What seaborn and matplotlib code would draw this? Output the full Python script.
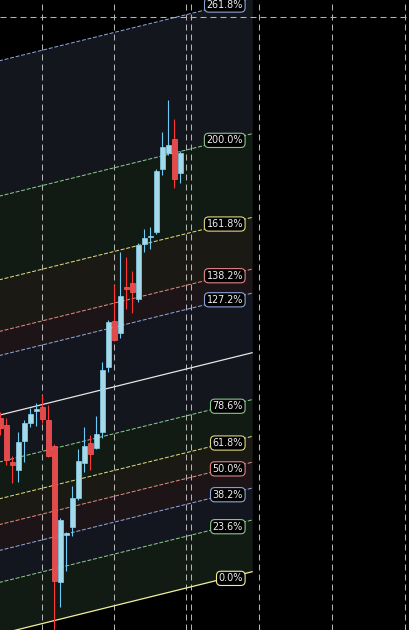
import numpy as np
import pandas as pd
import matplotlib.pyplot as plt
from matplotlib.patches import FancyBboxPatch
import seaborn as sns

# candles (price units are arbitrary, the chart shows no price scale)
opens  = [232, 225, 188, 180, 209, 227, 239.3, 243, 230, 204, 68, 115, 123, 152, 187, 207,
          202, 218, 283, 329, 317, 363, 367, 351, 406, 412.7, 418, 481, 497, 511, 477]
highs  = [238, 232, 194, 218, 230, 242, 247, 255, 245, 206, 132, 118, 164, 201, 223, 215,
          234, 288, 330, 365, 398, 393, 379, 407, 421, 423, 481, 518, 550, 531, 499]
lows   = [215, 185, 167, 168, 188, 223, 224, 227, 193, 5, 43, 79, 114, 150, 178, 180,
          201, 212, 278, 309, 312, 341, 337, 348, 398, 401, 416, 475, 495, 462, 467]
closes = [222, 190, 185, 208, 227, 236, 241, 231, 194, 69, 130, 117, 152, 189, 204, 196,
          216, 280, 328, 310, 354, 361, 358, 405, 412, 414.3, 479, 503, 505, 471, 497]

# fib channel
fib_levels = [0, 0.236, 0.382, 0.5, 0.618, 0.786, 1, 1.272, 1.382, 1.618, 2, 2.618]
fib_labels = ["0.0%", "23.6%", "38.2%", "50.0%", "61.8%", "78.6%", "",
              "127.2%", "138.2%", "161.8%", "200.0%", "261.8%"]
fib_colors = ["#f2ee9a", "#86c886", "#8ba3d8", "#e08484", "#dcd77e", "#86c886", "#e6e6e6",
              "#8ba3d8", "#e08484", "#dcd77e", "#86c886", "#8ba3d8"]
zone_colors = [None, "#111a13", "#13161f", "#1c1417", "#1a1913", "#111a13", "#13161d",
               "#13161f", "#1c1417", "#1a1913", "#111a13", "#13161d"]
chan_x = [-1, 42]
chan_base = [14.6, 78.3]
chan_height = 219

grid_x = [7, 19, 31, 43.2, 55.3, 67.5]
cross_x, cross_y = 31.73, 633.3

df = pd.DataFrame({"open": opens, "high": highs, "low": lows, "close": closes})
df["idx"] = np.arange(len(df))
df["up"] = df["close"] >= df["open"]

sns.set_theme(style="dark", rc={"axes.facecolor": "black", "figure.facecolor": "black",
                                "lines.scale_dashes": False})
plt.rcParams["font.family"] = ["DejaVu Sans"]

fig = plt.figure(figsize=(4.09, 6.30), dpi=100)
ax = fig.add_axes([0, 0, 1, 1])
ax.set_facecolor("black")

cx = np.array(chan_x, dtype=float)
cb = np.array(chan_base, dtype=float)

# zones
for i in range(1, len(fib_levels)):
    lo = cb + fib_levels[i - 1] * chan_height
    hi = cb + fib_levels[i] * chan_height
    ax.fill_between(cx, lo, hi, color=zone_colors[i], lw=0, zorder=1)

# grid + crosshair
for gx in grid_x + [cross_x]:
    ax.axvline(gx, color="#b4b4b4", lw=0.75, ls=(0, (4.3, 2.9)), zorder=2)
ax.axhline(cross_y, color="#b4b4b4", lw=0.75, ls=(0, (4.3, 2.9)), zorder=2)

# level lines
for lev, col in zip(fib_levels, fib_colors):
    ys = cb + lev * chan_height
    solid = lev in (0, 1)
    ax.plot(cx, ys, color=col, lw=0.9 if solid else 0.75,
            ls="-" if solid else (0, (2.9, 1.2)), zorder=3)

# candles
up_body, up_wick = "#a6d9e8", "#6ccaf4"
dn_body, dn_wick = "#e4494b", "#ff3434"
for _, r in df.iterrows():
    wick = up_wick if r["up"] else dn_wick
    body = up_body if r["up"] else dn_body
    edge = "#86d4f2" if r["up"] else "#ff5a5a"
    ax.vlines(r["idx"], r["low"], r["high"], color=wick, lw=0.8, zorder=4)
    h = max(abs(r["close"] - r["open"]), 1.6)
    b = min(r["open"], r["close"])
    ax.bar(r["idx"], h, bottom=b, width=0.76, color=body, edgecolor=edge,
           linewidth=0.5, zorder=5)

# level labels
lab_x = 40.45
for lev, col, txt in zip(fib_levels, fib_colors, fib_labels):
    if not txt:
        continue
    yv = np.interp(37.5, cx, cb) + lev * chan_height
    ax.text(lab_x, yv, txt, ha="right", va="center", fontsize=6.9, color="#f0f0f0",
            zorder=7,
            bbox=dict(boxstyle="round,pad=0.22,rounding_size=0.45", fc="black",
                      ec=col, lw=0.8))

ax.set_xlim(-0.05, 68.12)
ax.set_ylim(20, 650)
ax.set_xticks([])
ax.set_yticks([])
for s in ax.spines.values():
    s.set_visible(False)

fig.savefig("out.png", dpi=100, facecolor="black")
